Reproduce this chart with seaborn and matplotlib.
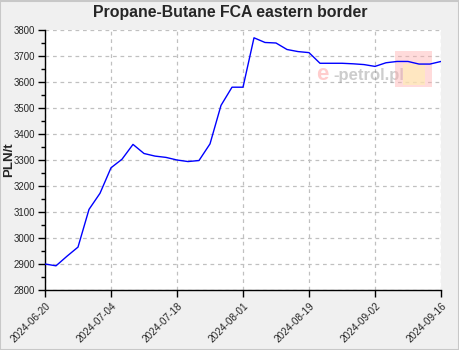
import matplotlib
matplotlib.use("Agg")
import matplotlib.pyplot as plt
import seaborn as sns
import pandas as pd
from matplotlib.ticker import MultipleLocator
from matplotlib.patches import Rectangle

# Data (37 quotations, evenly spaced on a categorical axis)
prices = [2900, 2893, 2930, 2965, 3110, 3172, 3270, 3303, 3360, 3325,
          3315, 3310, 3300, 3294, 3298, 3362, 3510, 3580, 3580, 3770,
          3752, 3750, 3725, 3717, 3713, 3672, 3672, 3672, 3670, 3667,
          3660, 3674, 3679, 3679, 3669, 3669, 3679]
point_index = list(range(len(prices)))
tick_positions = [0, 6, 12, 18, 24, 30, 36]
tick_labels = ["2024-06-20", "2024-07-04", "2024-07-18", "2024-08-01",
               "2024-08-19", "2024-09-02", "2024-09-16"]

df = pd.DataFrame({"idx": point_index, "price": prices})

sns.set_style("white")
plt.rcParams['font.family'] = ['Liberation Sans', 'DejaVu Sans']

fig = plt.figure(figsize=(4.6, 3.5), dpi=100, facecolor="#f0f0f0")
ax = fig.add_axes([45/460, 1-290/350, (441-45)/460, (290-30)/350])
ax.set_facecolor("white")

sns.lineplot(data=df, x="idx", y="price", ax=ax, color="#0000ff",
             linewidth=1.0, zorder=3)

ax.set_xlim(0, 36)
ax.set_ylim(2800, 3800)
ax.yaxis.set_major_locator(MultipleLocator(100))
ax.yaxis.set_minor_locator(MultipleLocator(50))
ax.set_xticks(tick_positions)
ax.set_xticklabels(tick_labels, rotation=45, ha="right", va="top",
                   rotation_mode="anchor", fontsize=7.2)
ax.tick_params(axis="y", which="major", labelsize=6.9, length=5, width=1,
               direction="out", left=True, color="black", pad=2)
ax.tick_params(axis="y", which="minor", length=3, width=1,
               direction="out", left=True, color="black")
ax.tick_params(axis="x", which="major", length=5, width=1, direction="out",
               bottom=True, color="black", pad=3)

ax.grid(True, which="major", linestyle=(0, (3, 3)), color="#c0c0c0",
        linewidth=0.9)
ax.set_axisbelow(True)

for s in ["top", "right"]:
    ax.spines[s].set_visible(False)
for s in ["left", "bottom"]:
    ax.spines[s].set_color("black")
    ax.spines[s].set_linewidth(1.0)

ax.set_xlabel("")
ax.set_ylabel("PLN/t", fontsize=9.5, fontweight="bold")
ax.yaxis.set_label_coords(-0.076, 0.5)

fig.text(0.5, 1-13/350, "Propane-Butane FCA eastern border", ha="center",
         va="center", fontsize=11.4, fontweight="bold")

# watermark
ax.text(0.684, 0.83, "e", transform=ax.transAxes, fontsize=16,
        color="#ff9090", alpha=0.45, ha="left", va="center", zorder=2,
        fontweight="bold")
ax.text(0.727, 0.825, "-petrol.pl", transform=ax.transAxes, fontsize=12,
        color="#909090", alpha=0.45, ha="left", va="center", zorder=2,
        fontweight="bold")
ax.add_patch(Rectangle((0.884, 0.78), 0.093, 0.14, transform=ax.transAxes,
                       facecolor="#ffb0b0", alpha=0.45, edgecolor="none",
                       zorder=2))
ax.add_patch(Rectangle((0.905, 0.79), 0.055, 0.08, transform=ax.transAxes,
                       facecolor="#fff0b0", alpha=0.6, edgecolor="none",
                       zorder=2))

fig.patches.append(Rectangle((0.001, 0.001), 0.997, 0.997,
                             transform=fig.transFigure, fill=False,
                             edgecolor="#c8c8c8", linewidth=1.5))

fig.savefig("out.png", dpi=100, facecolor=fig.get_facecolor())
